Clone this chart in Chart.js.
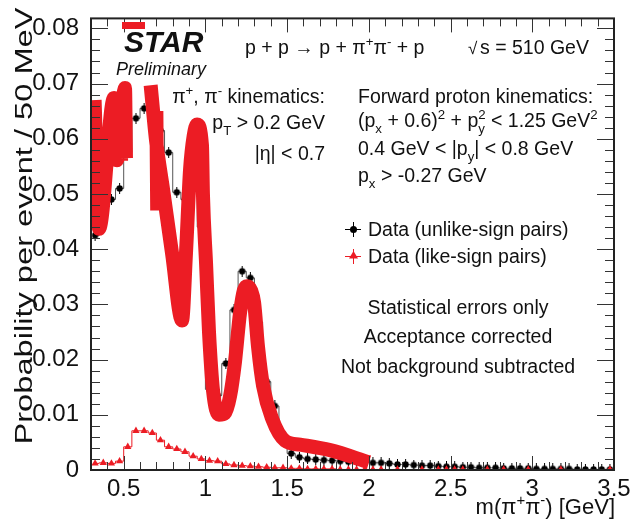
<!DOCTYPE html>
<html lang="en">
<head>
    <meta charset="UTF-8">
    <title>m(pi+pi-) STAR preliminary</title>
    <script src="https://cdn.jsdelivr.net/npm/chart.js"></script>
    <style>
        body { margin: 0; background: #fff; }
        canvas { display: block; }
    </style>
</head>
<body>
    <canvas id="massChart" width="638" height="522"></canvas>

    <script>
        // bin centres, 50 MeV bins from 0.3 to 3.5 GeV
        const binCenters = [
            0.325, 0.375, 0.425, 0.475, 0.525, 0.575, 0.625, 0.675, 0.725, 0.775, 0.825, 0.875, 0.925, 0.975,
            1.025, 1.075, 1.125, 1.175, 1.225, 1.275, 1.325, 1.375, 1.425, 1.475, 1.525, 1.575, 1.625, 1.675,
            1.725, 1.775, 1.825, 1.875, 1.925, 1.975, 2.025, 2.075, 2.125, 2.175, 2.225, 2.275, 2.325, 2.375,
            2.425, 2.475, 2.525, 2.575, 2.625, 2.675, 2.725, 2.775, 2.825, 2.875, 2.925, 2.975, 3.025, 3.075,
            3.125, 3.175, 3.225, 3.275, 3.325, 3.375, 3.425, 3.475
        ];

        // unlike-sign pairs (black points)
        const unlikeSign = [
            0.0425, 0.0465, 0.0490, 0.0510, 0.0575, 0.0637, 0.0655, 0.0660, 0.0615, 0.0575, 0.0503, 0.0490, 0.0527, 0.0440,
            0.0146, 0.0135, 0.0193, 0.0290, 0.0360, 0.0348, 0.0268, 0.0160, 0.0116, 0.0065, 0.0030, 0.0023, 0.0020, 0.0019,
            0.0018, 0.0017, 0.0016, 0.0015, 0.0015, 0.0014, 0.0013, 0.0013, 0.0012, 0.0010, 0.0010, 0.0009, 0.0008, 0.0008,
            0.0007, 0.0006, 0.0006, 0.0005, 0.0005, 0.0004, 0.0004, 0.0004, 0.0003, 0.0003, 0.0003, 0.0003, 0.0002, 0.0002,
            0.0002, 0.0002, 0.0002, 0.0001, 0.0001, 0.0001, 0.0001, 0.0001
        ];

        // like-sign pairs (red triangles), 0 = empty bin
        const likeSign = [
            0.0012, 0.0013, 0.0012, 0.0016, 0.0042, 0.0071, 0.0071, 0.0067, 0.0054, 0.0042, 0.0038, 0.0033, 0.0025, 0.0020,
            0.0017, 0.0016, 0.0011, 0.0009, 0.0008, 0.0007, 0.0006, 0.0005, 0.0004, 0.0004, 0.0003, 0.0003, 0.0002, 0.0002,
            0.0002, 0.0002, 0.0001, 0.0001, 0.0001, 0.0001, 0.0001, 0.0001, 0, 0.0001, 0, 0, 0.0001, 0,
            0.0001, 0.0001, 0.0001, 0.0001, 0, 0, 0.0001, 0, 0.0001, 0, 0, 0.0001, 0, 0,
            0, 0.0001, 0, 0, 0, 0, 0, 0.0001
        ];

        // thick red curve drawn over the data (null = pen lifted)
        const bandX = [0.322, 0.349, 0.441, 0.459, 0.508, 0.514, 0.60,
                       0.665, 0.698, 0.741, 0.796, 0.857, 0.881, 0.906, 0.928, 0.949, 0.979, 0.985, 1.004, 1.022, 1.047,
                       1.083, 1.120, 1.151, 1.181, 1.212, 1.236, 1.255, 1.280, 1.298, 1.322, 1.353, 1.408, 1.487, 1.579, 1.763, 2.001, 2.1,
                       0.700, 0.705, 0.71,
                       0.482, 0.484];
        const bandY = [0.0670, 0.0437, 0.0674, 0.0561, 0.0692, 0.0565, null,
                       0.0697, 0.0597, 0.0508, 0.0392, 0.0271, 0.0392, 0.0544, 0.0605, 0.0626, 0.0588, 0.0499, 0.0374, 0.0250, 0.0143,
                       0.0100, 0.0103, 0.0134, 0.0196, 0.0285, 0.0326, 0.0333, 0.0325, 0.0303, 0.0223, 0.0152, 0.0093, 0.0053, 0.0046, 0.0036, 0.0014, null,
                       0.0650, 0.0470, null,
                       0.0678, 0.0560];

        const xTickVals = [0.5, 1, 1.5, 2, 2.5, 3, 3.5];
        const xTickLabels = ['0.5', '1', '1.5', '2', '2.5', '3', '3.5'];
        const yTickVals = [0, 0.01, 0.02, 0.03, 0.04, 0.05, 0.06, 0.07, 0.08];
        const yTickLabels = ['0', '0.01', '0.02', '0.03', '0.04', '0.05', '0.06', '0.07', '0.08'];

        const FONT = "'Liberation Sans', Arial, Helvetica, sans-serif";
        const RED = 'rgb(236, 28, 36)';

        // black marker: dot with short vertical error bar
        function dotMarker() {
            const c = document.createElement('canvas');
            c.width = 9; c.height = 11;
            const g = c.getContext('2d');
            g.strokeStyle = '#000';
            g.lineWidth = 1;
            g.beginPath(); g.moveTo(4.5, 0); g.lineTo(4.5, 11); g.stroke();
            g.fillStyle = '#000';
            g.beginPath(); g.arc(4.5, 5.5, 3.2, 0, Math.PI * 2); g.fill();
            return c;
        }

        // text with sub / superscripts: parts = [text, kind, text2]
        function drawRich(ctx, parts, x, y, size, align) {
            const small = size * 0.68;
            const segs = parts.map(p => {
                const [t, k, t2] = p;
                ctx.font = (k ? small : size) + 'px ' + FONT;
                let w = ctx.measureText(t).width;
                if (k === 'subsup') w = Math.max(w, ctx.measureText(t2).width);
                return { t, k, t2, w };
            });
            const total = segs.reduce((s, a) => s + a.w, 0);
            let cx = align === 'right' ? x - total : align === 'center' ? x - total / 2 : x;
            ctx.textAlign = 'left';
            ctx.textBaseline = 'alphabetic';
            segs.forEach(s => {
                if (!s.k) {
                    ctx.font = size + 'px ' + FONT;
                    ctx.fillText(s.t, cx, y);
                } else {
                    ctx.font = small + 'px ' + FONT;
                    if (s.k === 'sub' || s.k === 'subsup') ctx.fillText(s.t, cx, y + size * 0.3);
                    if (s.k === 'sup') ctx.fillText(s.t, cx, y - size * 0.42);
                    if (s.k === 'subsup') ctx.fillText(s.t2, cx, y - size * 0.42);
                }
                cx += s.w;
            });
        }

        const decorPlugin = {
            id: 'decor',
            afterDraw(chart) {
                const ctx = chart.ctx;
                const area = chart.chartArea;
                const xs = chart.scales.x, ys = chart.scales.y;
                ctx.save();

                // inner ticks, ROOT style
                ctx.strokeStyle = '#333';
                ctx.lineWidth = 1;
                ctx.beginPath();
                for (let i = 0; i <= 41; i++) {
                    const v = i * 0.002;
                    const major = i % 5 === 0;
                    const len = major ? 17 : 9;
                    const py = Math.round(ys.getPixelForValue(v)) + 0.5;
                    if (py < area.top || py > area.bottom) continue;
                    ctx.moveTo(area.left, py); ctx.lineTo(area.left + len, py);
                    ctx.moveTo(area.right, py); ctx.lineTo(area.right - len, py);
                }
                for (let i = 4; i <= 34; i++) {
                    const v = i / 10;
                    const major = i % 5 === 0;
                    const len = major ? 14 : 8;
                    const px = Math.round(xs.getPixelForValue(v)) + 0.5;
                    ctx.moveTo(px, area.bottom); ctx.lineTo(px, area.bottom - len);
                    ctx.moveTo(px, area.top); ctx.lineTo(px, area.top + len);
                }
                ctx.stroke();

                // frame
                ctx.strokeStyle = '#222';
                ctx.lineWidth = 2;
                ctx.strokeRect(area.left, area.top, area.right - area.left, area.bottom - area.top);

                // STAR logo
                ctx.fillStyle = RED;
                ctx.fillRect(122, 22, 23, 7);
                ctx.fillStyle = '#111';
                ctx.textAlign = 'left';
                ctx.textBaseline = 'alphabetic';
                ctx.font = 'italic bold 30px ' + FONT;
                ctx.fillText('STAR', 124, 52);
                ctx.font = 'italic 18px ' + FONT;
                ctx.fillText('Preliminary', 116, 75);

                const fs = 19.5;
                drawRich(ctx, [['p + p \u2192 p + \u03c0'], ['+', 'sup'], ['\u03c0'], ['-', 'sup'], [' + p']], 245, 54, fs, 'left');
                ctx.font = '17px ' + FONT;
                ctx.fillText('\u221a', 468, 54);
                drawRich(ctx, [['s = 510 GeV']], 480, 54, fs, 'left');

                drawRich(ctx, [['\u03c0'], ['+', 'sup'], [', \u03c0'], ['-', 'sup'], [' kinematics:']], 325, 103, fs, 'right');
                drawRich(ctx, [['p'], ['T', 'sub'], [' > 0.2 GeV']], 325, 129, fs, 'right');
                drawRich(ctx, [['|\u03b7| < 0.7']], 325, 160, fs, 'right');

                drawRich(ctx, [['Forward proton kinematics:']], 358, 103, fs, 'left');
                drawRich(ctx, [['(p'], ['x', 'sub'], [' + 0.6)'], ['2', 'sup'], [' + p'], ['y', 'subsup', '2'], [' < 1.25 GeV'], ['2', 'sup']], 358, 127, fs, 'left');
                drawRich(ctx, [['0.4 GeV < |p'], ['y', 'sub'], ['| < 0.8 GeV']], 358, 155, fs, 'left');
                drawRich(ctx, [['p'], ['x', 'sub'], [' > -0.27 GeV']], 358, 182, fs, 'left');

                // legend
                ctx.strokeStyle = '#000';
                ctx.lineWidth = 1;
                ctx.beginPath();
                ctx.moveTo(345, 229.5); ctx.lineTo(361, 229.5);
                ctx.moveTo(353.5, 222); ctx.lineTo(353.5, 237);
                ctx.stroke();
                ctx.fillStyle = '#000';
                ctx.beginPath(); ctx.arc(353.5, 229.5, 3.5, 0, Math.PI * 2); ctx.fill();
                ctx.strokeStyle = RED;
                ctx.beginPath();
                ctx.moveTo(345, 256.5); ctx.lineTo(361, 256.5);
                ctx.moveTo(353.5, 249); ctx.lineTo(353.5, 264);
                ctx.stroke();
                ctx.fillStyle = RED;
                ctx.beginPath(); ctx.moveTo(353.5, 251); ctx.lineTo(358, 258.5); ctx.lineTo(349, 258.5); ctx.closePath(); ctx.fill();
                ctx.fillStyle = '#111';
                drawRich(ctx, [['Data (unlike-sign pairs)']], 368, 236, fs, 'left');
                drawRich(ctx, [['Data (like-sign pairs)']], 368, 263, fs, 'left');

                drawRich(ctx, [['Statistical errors only']], 458, 314, fs, 'center');
                drawRich(ctx, [['Acceptance corrected']], 458, 343, fs, 'center');
                drawRich(ctx, [['Not background subtracted']], 458, 373, fs, 'center');

                // axis titles
                drawRich(ctx, [['m(\u03c0'], ['+', 'sup'], ['\u03c0'], ['-', 'sup'], [') [GeV]']], 615, 514, 22, 'right');

                const yTitle = 'Probability per event / 50 MeV';
                ctx.font = '23px ' + FONT;
                const w = ctx.measureText(yTitle).width;
                ctx.translate(32, 226);
                ctx.rotate(-Math.PI / 2);
                ctx.scale(437 / w, 1);
                ctx.textAlign = 'center';
                ctx.fillText(yTitle, 0, 0);

                ctx.restore();
            }
        };

        const chart = new Chart(document.getElementById('massChart').getContext('2d'), {
            type: 'line',
            data: {
                datasets: [
                    {
                        label: 'curve',
                        data: bandX.map((x, i) => ({ x: x, y: bandY[i] })),
                        borderColor: RED,
                        borderWidth: 14,
                        borderJoinStyle: 'round',
                        borderCapStyle: 'butt',
                        pointRadius: 0,
                        cubicInterpolationMode: 'monotone',
                        spanGaps: false,
                        clip: 0
                    },
                    {
                        label: 'Data (like-sign pairs)',
                        data: binCenters.map((x, i) => ({ x: x, y: likeSign[i] })),
                        borderColor: RED,
                        borderWidth: 1,
                        stepped: 'middle',
                        pointStyle: 'triangle',
                        pointRadius: ctx => (ctx.raw && ctx.raw.y > 0 ? 4.2 : 0),
                        pointBackgroundColor: RED,
                        pointBorderColor: RED,
                        pointBorderWidth: 0
                    },
                    {
                        label: 'Data (unlike-sign pairs)',
                        data: binCenters.map((x, i) => ({ x: x, y: unlikeSign[i] })),
                        borderColor: '#555',
                        borderWidth: 1,
                        stepped: 'middle',
                        pointStyle: dotMarker(),
                        pointRadius: 4
                    }
                ]
            },
            options: {
                responsive: false,
                animation: false,
                events: [],
                layout: { padding: { left: 0, top: 11, right: 24, bottom: 0 } },
                plugins: {
                    legend: { display: false },
                    tooltip: { enabled: false }
                },
                scales: {
                    x: {
                        type: 'linear',
                        min: 0.3,
                        max: 3.5,
                        grid: { display: false },
                        border: { display: false },
                        afterBuildTicks: axis => { axis.ticks = xTickVals.map(v => ({ value: v })); },
                        afterFit: axis => { axis.height = 52; },
                        ticks: {
                            callback: (v, i) => xTickLabels[i],
                            font: { size: 24, family: FONT },
                            color: '#111',
                            maxRotation: 0,
                            autoSkip: false,
                            padding: -3
                        }
                    },
                    y: {
                        min: 0,
                        max: 0.0818,
                        grid: { display: false },
                        border: { display: false },
                        afterBuildTicks: axis => { axis.ticks = yTickVals.map(v => ({ value: v })); },
                        afterFit: axis => { axis.width = 91; },
                        ticks: {
                            callback: (v, i) => yTickLabels[i],
                            font: { size: 24, family: FONT },
                            color: '#111',
                            autoSkip: false,
                            padding: 4
                        }
                    }
                }
            },
            plugins: [decorPlugin]
        });
    </script>
</body>
</html>
